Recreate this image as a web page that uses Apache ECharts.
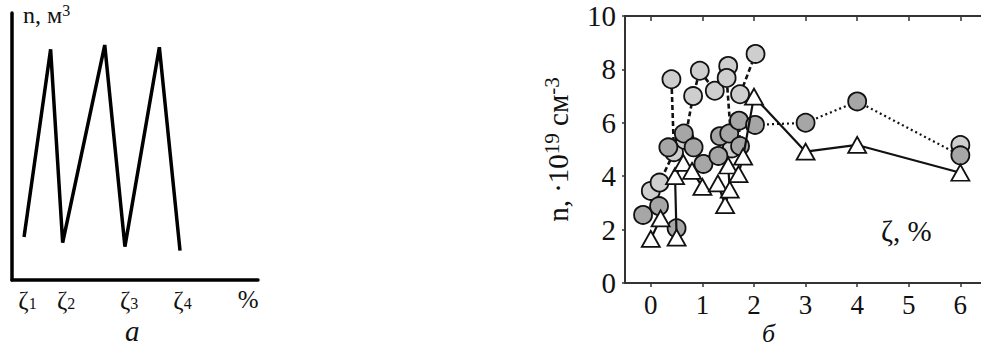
<!DOCTYPE html>
<html>
<head>
<meta charset="utf-8">
<script src="https://cdn.jsdelivr.net/npm/echarts@6/dist/echarts.min.js"></script>
<style>
  html, body { margin: 0; padding: 0; background: #fff; }
  #chart { width: 981px; height: 349px; }
</style>
</head>
<body>
<div id="chart"></div>
<script>
// panel a: sawtooth (arbitrary units 0..10)
const sawPoints = [[0.49, 1.61], [1.57, 8.64], [2.06, 1.4], [3.77, 8.8], [4.59, 1.25], [5.99, 8.72], [6.83, 1.1]];
const zetaTicks = [0.63, 2.2, 4.76, 6.93, 9.6];
const zetaLabels = ['1', '2', '3', '4', '%'];

// panel б: stippled circles (dashed links)
const lightA = [[0.0, 3.45], [0.17, 3.76], [0.45, 4.9], [0.4, 7.63]];
const lightB = [[0.66, 5.36], [0.82, 7.0], [0.95, 7.95], [1.24, 7.2], [1.5, 8.13]];
const lightC = [[1.57, 5.04], [1.47, 7.68]];
const lightD = [[1.73, 7.07], [2.03, 8.58]];
const lightE = [[6.0, 5.17]];
// grey circles (dotted links)
const midA = [[-0.15, 2.55], [0.16, 2.88]];
const midB = [[0.5, 2.05]];
const midC = [[0.34, 5.08], [0.64, 5.6], [0.83, 5.08], [1.02, 4.46]];
const midD = [[1.31, 4.76], [1.34, 5.5], [1.52, 5.6], [1.73, 5.13], [1.71, 6.08], [2.02, 5.92], [3.0, 6.0], [4.0, 6.8], [6.0, 4.78]];
// open triangles (solid links)
const triA = [[0.0, 1.65], [0.19, 2.42]];
const triB = [[0.5, 1.7], [0.47, 4.0], [0.63, 4.5], [0.8, 4.2], [1.0, 3.6]];
const triC = [[1.3, 3.73], [1.44, 2.92], [1.53, 3.5], [1.5, 4.4], [1.7, 4.08], [1.79, 4.73], [2.0, 6.98], [3.0, 4.92], [4.0, 5.17], [6.0, 4.13]];

const xTicks = [0, 1, 2, 3, 4, 5, 6];
const serif = '"Liberation Serif", "Times New Roman", serif';

function lightSeries(data) {
  return {
    type: 'line', xAxisIndex: 1, yAxisIndex: 1, data: data, z: 2,
    symbol: 'circle', symbolSize: 18,
    itemStyle: { color: '#cecece', borderColor: '#111', borderWidth: 1.8 },
    lineStyle: { color: '#111', width: 2.6, type: [5, 3] }
  };
}
function midSeries(data) {
  return {
    type: 'line', xAxisIndex: 1, yAxisIndex: 1, data: data, z: 3,
    symbol: 'circle', symbolSize: 18,
    itemStyle: { color: '#a6a6a6', borderColor: '#111', borderWidth: 1.8 },
    lineStyle: { color: '#111', width: 2.2, type: [2, 3] }
  };
}
function triSeries(data) {
  return {
    type: 'line', xAxisIndex: 1, yAxisIndex: 1, data: data, z: 4,
    symbol: 'triangle', symbolSize: [18, 16],
    itemStyle: { color: '#fff', borderColor: '#111', borderWidth: 1.8 },
    lineStyle: { color: '#111', width: 2.2 }
  };
}

const chart = echarts.init(document.getElementById('chart'), null, { renderer: 'svg' });
chart.setOption({
  backgroundColor: '#fff',
  animation: false,
  textStyle: { fontFamily: serif, color: '#111' },
  grid: [
    { left: 12, top: 13, width: 246, height: 267 },
    { left: 625, top: 16, width: 356, height: 267 }
  ],
  xAxis: [
    {
      gridIndex: 0, type: 'value', min: 0, max: 10,
      axisLine: { lineStyle: { color: '#000', width: 3.5 } },
      axisTick: { show: false },
      splitLine: { show: false },
      axisLabel: {
        customValues: zetaTicks, margin: 9,
        formatter: function (v) {
          const i = zetaTicks.indexOf(v);
          const s = zetaLabels[i];
          return s === '%' ? '{p|%}' : '{z|ζ}{s|' + s + '}';
        },
        rich: {
          z: { fontFamily: serif, fontSize: 25, color: '#111', lineHeight: 21 },
          s: { fontFamily: serif, fontSize: 16, color: '#111', padding: [6, 0, 0, 0] },
          p: { fontFamily: serif, fontSize: 25, color: '#111', lineHeight: 21 }
        }
      }
    },
    {
      gridIndex: 1, type: 'value', min: -0.5, max: 6.4,
      axisLine: { onZero: false, lineStyle: { color: '#333', width: 2 } },
      axisTick: { customValues: xTicks, length: 4, lineStyle: { color: '#333', width: 1.5 } },
      splitLine: { show: false },
      axisLabel: { customValues: xTicks, margin: 8, fontSize: 27, fontFamily: serif, color: '#111' }
    },
    {
      gridIndex: 1, type: 'value', min: -0.5, max: 6.4, position: 'top',
      axisLine: { onZero: false, lineStyle: { color: '#333', width: 2 } },
      axisTick: { customValues: xTicks, inside: true, length: 5, lineStyle: { color: '#333', width: 1.5 } },
      splitLine: { show: false },
      axisLabel: { show: false }
    }
  ],
  yAxis: [
    {
      gridIndex: 0, type: 'value', min: 0, max: 10,
      axisLine: { show: true, lineStyle: { color: '#000', width: 3.5 } },
      axisTick: { show: false },
      axisLabel: { show: false },
      splitLine: { show: false }
    },
    {
      gridIndex: 1, type: 'value', min: 0, max: 10, interval: 2,
      axisLine: { show: true, onZero: false, lineStyle: { color: '#333', width: 2 } },
      axisTick: { show: true, length: 3, lineStyle: { color: '#333', width: 1.5 } },
      splitLine: { show: false },
      axisLabel: { margin: 9, fontSize: 29, fontFamily: serif, color: '#111' },
      name: '{t|n, ·10}{sup|19}{t| см}{sup|-3}',
      nameLocation: 'middle', nameGap: 50, nameRotate: 90,
      nameTextStyle: {
        rich: {
          t: { fontFamily: serif, fontSize: 29, color: '#111' },
          sup: { fontFamily: serif, fontSize: 21, color: '#111', padding: [0, 0, 13, 0] }
        }
      }
    }
  ],
  graphic: [
    {
      type: 'text', left: 23, top: 2,
      style: { text: '{t|n, м}{sup|3}', fontFamily: serif, rich: {
        t: { fontFamily: serif, fontSize: 24, fill: '#111' },
        sup: { fontFamily: serif, fontSize: 16, fill: '#111', padding: [0, 0, 10, 0] }
      } }
    },
    {
      type: 'text', left: 125, top: 316,
      style: { text: 'а', fontFamily: serif, fontSize: 29, fontStyle: 'italic', fill: '#111' }
    },
    {
      type: 'text', left: 762, top: 320,
      style: { text: 'б', fontFamily: serif, fontSize: 26, fontStyle: 'italic', fill: '#111' }
    },
    { type: 'text', left: 881, top: 216, style: { text: 'ζ, %', fontFamily: serif, fontSize: 29, fill: '#111' } }
  ],
  series: [
    {
      type: 'line', xAxisIndex: 0, yAxisIndex: 0, data: sawPoints,
      symbol: 'none', lineStyle: { color: '#000', width: 3.5 }
    },
    lightSeries(lightA), lightSeries(lightB), lightSeries(lightC), lightSeries(lightD), lightSeries(lightE),
    midSeries(midA), midSeries(midB), midSeries(midC), midSeries(midD),
    triSeries(triA), triSeries(triB), triSeries(triC)
  ]
});
</script>
</body>
</html>
